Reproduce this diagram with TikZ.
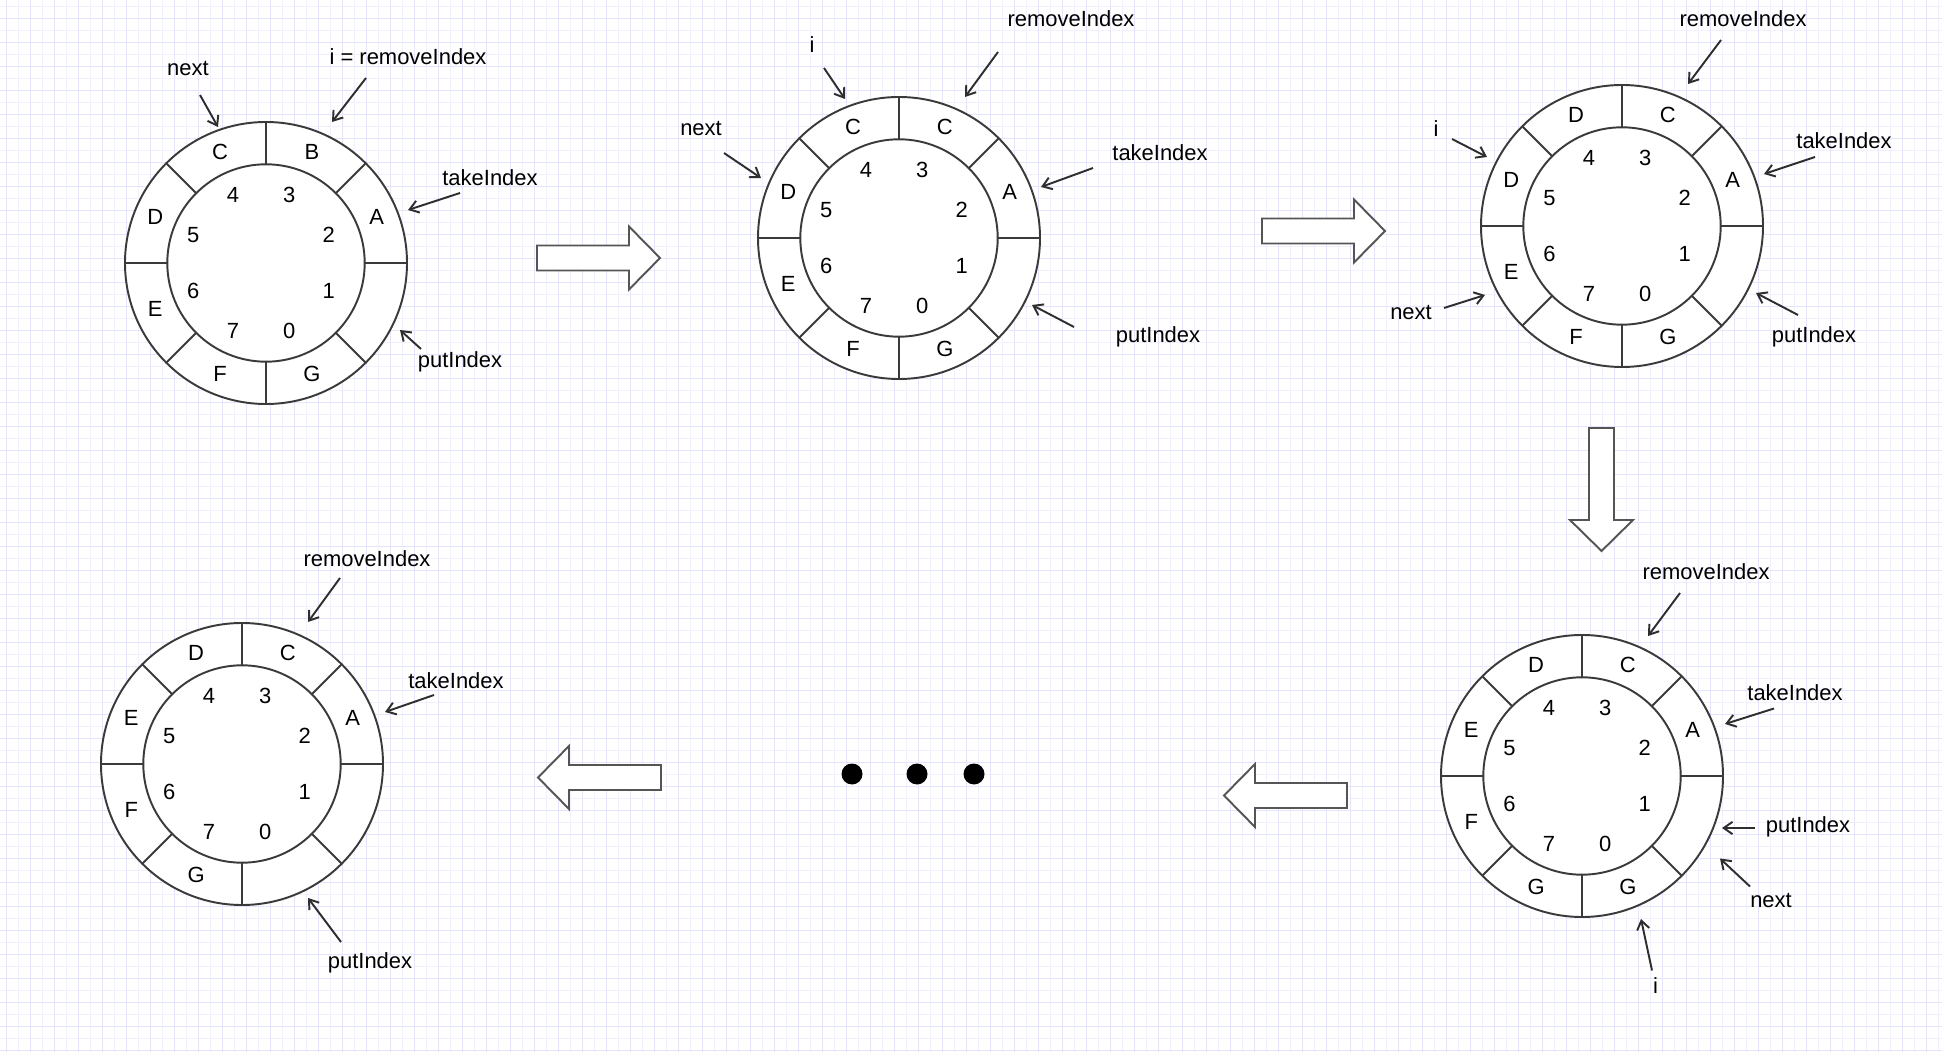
\documentclass[tikz,border=0pt]{standalone}
\usepackage{fontspec}
\setmainfont{Liberation Sans}
\usetikzlibrary{arrows.meta}
\definecolor{ringc}{HTML}{3A3A3A}
\definecolor{ptrc}{HTML}{2E2E2E}
\definecolor{blkc}{HTML}{555555}
\definecolor{gridlo}{HTML}{F1F1FD}
\definecolor{gridhi}{HTML}{E4E4FA}

\begin{document}
\begin{tikzpicture}[x=0.02cm, y=0.02cm,
  ringline/.style={line width=1.1pt, draw=ringc},
  cell/.style={font=\fontsize{12.5}{15}\selectfont, inner sep=0pt},
  tag/.style={font=\fontsize{12.5}{15}\selectfont, inner sep=1pt},
  ptr/.style={-{Straight Barb[length=5pt,width=7pt]}, line width=1.1pt, draw=ptrc},
  blk/.style={line width=1.1pt, draw=blkc, fill=white, line join=miter},
  dot/.style={circle, fill=black, inner sep=0pt, minimum size=0.42cm},
  fatarrow/.pic={\draw[blk] (0,-12.5) -- (92,-12.5) -- (92,-31.5) -- (123,0) -- (92,31.5) -- (92,12.5) -- (0,12.5) -- cycle;}]
\useasboundingbox (0,0) rectangle (1942,1052);
\fill[white] (0,0) rectangle (1942,1052);
\foreach \gx in {18.5,42.5,...,1942} \draw[gridlo, line width=0.6pt] (\gx,0) -- (\gx,1052);
\foreach \gy in {13.5,37.5,...,1052} \draw[gridlo, line width=0.6pt] (0,\gy) -- (1942,\gy);
\foreach \gx in {6.5,30.5,...,1942} \draw[gridhi, line width=0.6pt] (\gx,0) -- (\gx,1052);
\foreach \gy in {1.5,25.5,...,1052} \draw[gridhi, line width=0.6pt] (0,\gy) -- (1942,\gy);

\begin{scope}[shift={(266,789)}, scale=141]
  \draw[ringline, fill=white] (0,0) circle (1);
  \draw[ringline] (0,0) circle (0.7);
  \foreach \a in {0,45,...,315} \draw[ringline] (\a:0.7) -- (\a:1);
  \foreach \k/\v in {0/G,2/A,3/B,4/C,5/D,6/E,7/F} \node[cell] (q1s\k) at ({292.5+45*\k}:0.85) {\v};
  \foreach \k in {0,...,7} \node[cell] (q1n\k) at ({0.52*cos(292.5+45*\k)-0.035},{0.52*sin(292.5+45*\k)}) {\k};
\end{scope}
\begin{scope}[shift={(899,814)}, scale=141]
  \draw[ringline, fill=white] (0,0) circle (1);
  \draw[ringline] (0,0) circle (0.7);
  \foreach \a in {0,45,...,315} \draw[ringline] (\a:0.7) -- (\a:1);
  \foreach \k/\v in {0/G,2/A,3/C,4/C,5/D,6/E,7/F} \node[cell] (q2s\k) at ({292.5+45*\k}:0.85) {\v};
  \foreach \k in {0,...,7} \node[cell] (q2n\k) at ({0.52*cos(292.5+45*\k)-0.035},{0.52*sin(292.5+45*\k)}) {\k};
\end{scope}
\begin{scope}[shift={(1622,826)}, scale=141]
  \draw[ringline, fill=white] (0,0) circle (1);
  \draw[ringline] (0,0) circle (0.7);
  \foreach \a in {0,45,...,315} \draw[ringline] (\a:0.7) -- (\a:1);
  \foreach \k/\v in {0/G,2/A,3/C,4/D,5/D,6/E,7/F} \node[cell] (q3s\k) at ({292.5+45*\k}:0.85) {\v};
  \foreach \k in {0,...,7} \node[cell] (q3n\k) at ({0.52*cos(292.5+45*\k)-0.035},{0.52*sin(292.5+45*\k)}) {\k};
\end{scope}
\begin{scope}[shift={(1582,276)}, scale=141]
  \draw[ringline, fill=white] (0,0) circle (1);
  \draw[ringline] (0,0) circle (0.7);
  \foreach \a in {0,45,...,315} \draw[ringline] (\a:0.7) -- (\a:1);
  \foreach \k/\v in {0/G,2/A,3/C,4/D,5/E,6/F,7/G} \node[cell] (q4s\k) at ({292.5+45*\k}:0.85) {\v};
  \foreach \k in {0,...,7} \node[cell] (q4n\k) at ({0.52*cos(292.5+45*\k)-0.035},{0.52*sin(292.5+45*\k)}) {\k};
\end{scope}
\begin{scope}[shift={(242,288)}, scale=141]
  \draw[ringline, fill=white] (0,0) circle (1);
  \draw[ringline] (0,0) circle (0.7);
  \foreach \a in {0,45,...,315} \draw[ringline] (\a:0.7) -- (\a:1);
  \foreach \k/\v in {2/A,3/C,4/D,5/E,6/F,7/G} \node[cell] (q5s\k) at ({292.5+45*\k}:0.85) {\v};
  \foreach \k in {0,...,7} \node[cell] (q5n\k) at ({0.52*cos(292.5+45*\k)-0.035},{0.52*sin(292.5+45*\k)}) {\k};
\end{scope}

\node[tag] (nx1) at (188,983) {next};
\node[tag] (rm1) at (408,995) {i = removeIndex};
\node[tag] (tk1) at (490,874) {takeIndex};
\node[tag] (pt1) at (460,690) {putIndex};
\path (200,957) coordinate (nx1a) (218,925) coordinate (nx1b)
      (366,974) coordinate (rm1a) (332,930) coordinate (rm1b)
      (460,859) coordinate (tk1a) (408,842) coordinate (tk1b)
      (421,703) coordinate (pt1a) (400,722) coordinate (pt1b);
\draw[ptr] (nx1a) -- (nx1b);
\draw[ptr] (rm1a) -- (rm1b);
\draw[ptr] (tk1a) -- (tk1b);
\draw[ptr] (pt1a) -- (pt1b);

\node[tag] (ix2) at (812,1007) {i};
\node[tag] (rm2) at (1071,1033) {removeIndex};
\node[tag] (nx2) at (701,923) {next};
\node[tag] (tk2) at (1160,899) {takeIndex};
\node[tag] (pt2) at (1158,715) {putIndex};
\path (824,984) coordinate (ix2a) (845,953) coordinate (ix2b)
      (998,1000) coordinate (rm2a) (965,955) coordinate (rm2b)
      (724,899) coordinate (nx2a) (761,874) coordinate (nx2b)
      (1093,884) coordinate (tk2a) (1041,865) coordinate (tk2b)
      (1074,725) coordinate (pt2a) (1032,747) coordinate (pt2b);
\draw[ptr] (ix2a) -- (ix2b);
\draw[ptr] (rm2a) -- (rm2b);
\draw[ptr] (nx2a) -- (nx2b);
\draw[ptr] (tk2a) -- (tk2b);
\draw[ptr] (pt2a) -- (pt2b);

\node[tag] (rm3) at (1743,1033) {removeIndex};
\node[tag] (ix3) at (1436,923) {i};
\node[tag] (tk3) at (1844,911) {takeIndex};
\node[tag] (nx3) at (1411,739) {next};
\node[tag] (pt3) at (1814,715) {putIndex};
\path (1721,1012) coordinate (rm3a) (1688,968) coordinate (rm3b)
      (1452,913) coordinate (ix3a) (1487,895) coordinate (ix3b)
      (1815,895) coordinate (tk3a) (1764,878) coordinate (tk3b)
      (1444,744) coordinate (nx3a) (1485,757) coordinate (nx3b)
      (1798,737) coordinate (pt3a) (1756,759) coordinate (pt3b);
\draw[ptr] (rm3a) -- (rm3b);
\draw[ptr] (ix3a) -- (ix3b);
\draw[ptr] (tk3a) -- (tk3b);
\draw[ptr] (nx3a) -- (nx3b);
\draw[ptr] (pt3a) -- (pt3b);

\node[tag] (rm4) at (1706,480.5) {removeIndex};
\node[tag] (tk4) at (1795,359) {takeIndex};
\node[tag] (pt4) at (1808,225) {putIndex};
\node[tag] (nx4) at (1771,151.5) {next};
\node[tag] (ix4) at (1655.5,66) {i};
\path (1680,459) coordinate (rm4a) (1648,416) coordinate (rm4b)
      (1774,343.5) coordinate (tk4a) (1725,328) coordinate (tk4b)
      (1755,224) coordinate (pt4a) (1722,224) coordinate (pt4b)
      (1750,165.5) coordinate (nx4a) (1720,193.5) coordinate (nx4b)
      (1652,81.5) coordinate (ix4a) (1641,133) coordinate (ix4b);
\draw[ptr] (rm4a) -- (rm4b);
\draw[ptr] (tk4a) -- (tk4b);
\draw[ptr] (pt4a) -- (pt4b);
\draw[ptr] (nx4a) -- (nx4b);
\draw[ptr] (ix4a) -- (ix4b);

\node[tag] (rm5) at (367,493) {removeIndex};
\node[tag] (tk5) at (456,371) {takeIndex};
\node[tag] (pt5) at (370,89) {putIndex};
\path (340,474) coordinate (rm5a) (308,430) coordinate (rm5b)
      (434,357) coordinate (tk5a) (385,340) coordinate (tk5b)
      (341,110) coordinate (pt5a) (308,154) coordinate (pt5b);
\draw[ptr] (rm5a) -- (rm5b);
\draw[ptr] (tk5a) -- (tk5b);
\draw[ptr] (pt5a) -- (pt5b);

\pic (mv1) at (537,794) {fatarrow};
\pic (mv2) at (1262,821) {fatarrow};
\pic[rotate=-90] (mv3) at (1601.5,624) {fatarrow};
\pic[rotate=180] (mv4) at (1347,256.5) {fatarrow};
\pic[rotate=180] (mv5) at (661,274.5) {fatarrow};

\node[dot] (d1) at (852,278) {};
\node[dot] (d2) at (917,278) {};
\node[dot] (d3) at (974,278) {};
\end{tikzpicture}
\end{document}
